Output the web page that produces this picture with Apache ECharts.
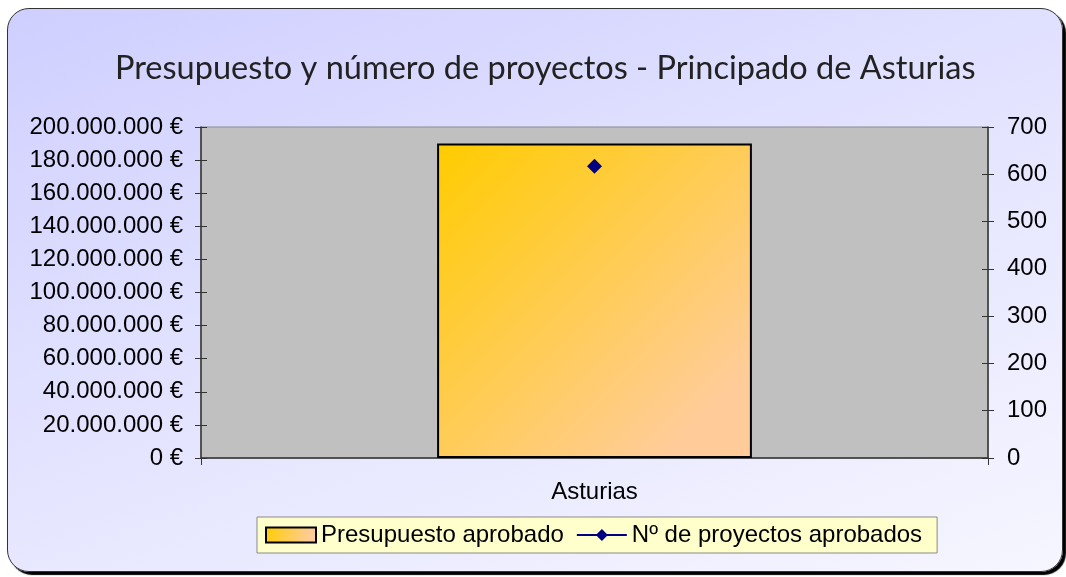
<!DOCTYPE html>
<html>
<head>
<meta charset="utf-8">
<script src="https://cdn.jsdelivr.net/npm/echarts@6/dist/echarts.min.js"></script>
<style>
  html, body { margin: 0; padding: 0; background: #ffffff; }
  #frame {
    position: absolute; left: 7px; top: 8px; width: 1054px; height: 562px;
    border: 1.5px solid #333; border-radius: 22px;
    background: linear-gradient(160deg, #cfcfff 0%, #e2e2ff 45%, #f6f6ff 100%);
    box-shadow: 3px 3px 1px #000;
  }
  #chart { position: absolute; left: 0; top: 0; width: 1066px; height: 577px; }
</style>
</head>
<body>
<div id="frame"></div>
<div id="chart"></div>
<script>
const categories = ['Asturias'];
const presupuesto = [190000000];
const proyectos = [617];
const seriesNames = ['Presupuesto aprobado', 'Nº de proyectos aprobados'];

function fmtEuro(v) {
  return String(v).replace(/\B(?=(\d{3})+(?!\d))/g, '.') + ' €';
}

const labelFont = { color: '#000', fontSize: 24, fontFamily: 'Liberation Sans, Arial, sans-serif' };
const axisLine = { show: true, lineStyle: { color: '#333', width: 1.5 } };

const chart = echarts.init(document.getElementById('chart'), null, { renderer: 'canvas' });

chart.setOption({
  animation: false,
  backgroundColor: 'transparent',
  title: {
    text: 'Presupuesto y número de proyectos - Principado de Asturias',
    left: 110,
    top: 47,
    textStyle: { color: '#222', fontSize: 32.5, fontWeight: 'normal', fontFamily: 'Lato, Open Sans, sans-serif' },
  },
  legend: {
    left: 257,
    top: 517,
    itemWidth: 50,
    itemHeight: 15,
    itemGap: 12,
    padding: [6, 15, 6, 8],
    backgroundColor: '#ffffcc',
    borderColor: '#8a8a8a',
    borderWidth: 1,
    borderRadius: 0,
    textStyle: { color: '#000', fontSize: 24, fontFamily: 'Liberation Sans, Arial, sans-serif' },
    data: [{ name: seriesNames[0], icon: 'rect' }, { name: seriesNames[1] }],
  },
  grid: {
    left: 201, right: 78, top: 127, bottom: 119,
    show: true, backgroundColor: '#c0c0c0', borderColor: '#8c8c8c', borderWidth: 1,
  },
  xAxis: {
    type: 'category',
    data: categories,
    boundaryGap: true,
    axisLine,
    axisTick: { show: true, length: 7, lineStyle: { color: '#333' } },
    axisLabel: { ...labelFont, margin: 22 },
    splitLine: { show: false },
  },
  yAxis: [
    {
      type: 'value', position: 'left', min: 0, max: 200000000, interval: 20000000,
      axisLine, axisTick: { show: true, length: 6, lineStyle: { color: '#333' } },
      axisLabel: { ...labelFont, margin: 18, formatter: fmtEuro },
      splitLine: { show: false },
    },
    {
      type: 'value', position: 'right', min: 0, max: 700, interval: 100,
      axisLine, axisTick: { show: true, length: 6, lineStyle: { color: '#333' } },
      axisLabel: { ...labelFont, margin: 19 },
      splitLine: { show: false },
    },
    {
      type: 'value', position: 'left', min: 0, max: 200000000, interval: 20000000,
      axisLine: { show: false }, axisTick: { show: true, inside: true, length: 6, lineStyle: { color: '#333' } },
      axisLabel: { show: false }, splitLine: { show: false },
    },
    {
      type: 'value', position: 'right', min: 0, max: 700, interval: 100,
      axisLine: { show: false }, axisTick: { show: true, inside: true, length: 6, lineStyle: { color: '#333' } },
      axisLabel: { show: false }, splitLine: { show: false },
    },
  ],
  series: [
    {
      name: seriesNames[0],
      type: 'bar',
      yAxisIndex: 0,
      barWidth: '40%',
      data: presupuesto,
      itemStyle: {
        color: new echarts.graphic.LinearGradient(0, 0, 1, 1, [
          { offset: 0, color: '#ffcc00' },
          { offset: 0.85, color: '#ffcc99' },
          { offset: 1, color: '#ffcc99' },
        ]),
        borderColor: '#000',
        borderWidth: 2,
      },
    },
    {
      name: seriesNames[1],
      type: 'line',
      yAxisIndex: 1,
      data: proyectos,
      symbol: 'diamond',
      symbolSize: 15,
      itemStyle: { color: '#000080' },
      lineStyle: { color: '#000080', width: 2 },
    },
  ],
});
</script>
</body>
</html>
